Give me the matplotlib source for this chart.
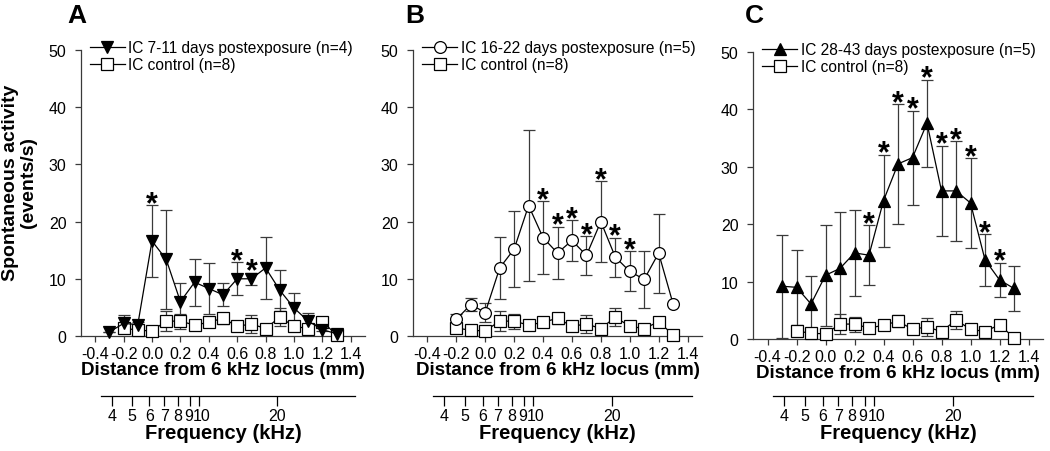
import numpy as np
import matplotlib
matplotlib.use("Agg")
import matplotlib.pyplot as plt
from matplotlib.transforms import ScaledTranslation

plt.rcParams['font.family'] = ['Liberation Sans', 'DejaVu Sans']

# distance from 6 kHz locus (mm)
x_exp = [-0.3, -0.2, -0.1, 0.0, 0.1, 0.2, 0.3, 0.4, 0.5, 0.6, 0.7, 0.8, 0.9, 1.0, 1.1, 1.2, 1.3]
x_ctl = [-0.2, -0.1, 0.0, 0.1, 0.2, 0.3, 0.4, 0.5, 0.6, 0.7, 0.8, 0.9, 1.0, 1.1, 1.2, 1.3]
x_b = x_ctl

# IC control (n=8), same in every panel
ctl_mean = [1.4, 1.0, 0.9, 2.6, 2.6, 1.9, 2.4, 3.1, 1.7, 2.1, 1.3, 3.3, 1.7, 1.3, 2.5, 0.2]
ctl_sem = [0.7, 0.3, 0.3, 1.8, 1.3, 0.4, 0.6, 1.0, 0.4, 1.5, 0.3, 1.6, 0.4, 0.3, 0.4, 0.1]

# A: 7-11 days postexposure (n=4)
a_mean = [0.7, 2.2, 2.0, 16.6, 13.4, 6.0, 9.4, 8.3, 7.2, 10.0, 10.0, 11.9, 8.0, 4.9, 2.6, 1.1, 0.4]
a_sem = [0.0, 1.4, 0.5, 6.3, 8.7, 3.2, 4.1, 4.4, 2.0, 2.9, 1.1, 5.4, 3.6, 2.6, 1.4, 0.3, 0.0]
a_star = [0.0, 0.6, 0.7]

# B: 16-22 days postexposure (n=5)
b_mean = [2.9, 5.5, 4.1, 11.9, 15.2, 22.8, 17.2, 14.5, 16.7, 14.1, 20.0, 13.8, 11.3, 9.9, 14.5, 5.6]
b_sem = [1.0, 1.2, 1.7, 5.4, 6.7, 13.2, 6.4, 4.6, 3.6, 3.4, 7.1, 3.4, 3.5, 5.0, 6.9, 0.0]
b_star = [0.4, 0.5, 0.6, 0.7, 0.8, 0.9, 1.0]

# C: 28-43 days postexposure (n=5)
c_mean = [9.2, 9.0, 6.1, 11.1, 12.3, 15.0, 14.6, 24.1, 30.5, 31.6, 37.6, 25.8, 25.8, 23.7, 13.8, 10.3, 8.8]
c_sem = [9.0, 6.5, 4.9, 8.8, 9.8, 7.5, 5.2, 8.0, 10.4, 8.2, 7.6, 7.9, 8.7, 7.8, 4.5, 3.0, 4.0]
c_star = [0.3, 0.4, 0.5, 0.6, 0.7, 0.8, 0.9, 1.0, 1.1, 1.2]

# frequency axis: tick labels and their place on the distance axis (mm)
freq_labels = ['4', '5', '6', '7', '8', '9', '10', '20']
freq_pos = [-0.284, -0.14, -0.018, 0.087, 0.182, 0.269, 0.332, 0.88]

dist_ticks = [-0.4, -0.2, 0.0, 0.2, 0.4, 0.6, 0.8, 1.0, 1.2, 1.4]

W, H = 1050, 452
fig = plt.figure(figsize=(W / 100, H / 100), dpi=100)
gray = '#3a3a3a'


def px_axes(left, top, right, bottom):
    return fig.add_axes([left / W, 1 - bottom / H, (right - left) / W, (bottom - top) / H])


panels = [
    ('A', 67, (81, 51, 365, 337), x_exp, a_mean, a_sem, a_star,
     dict(marker='v', mfc='k', ms=8.5), 'IC 7-11 days postexposure (n=4)'),
    ('B', 405, (413, 51, 702, 337), x_b, b_mean, b_sem, b_star,
     dict(marker='o', mfc='white', ms=8.5), 'IC 16-22 days postexposure (n=5)'),
    ('C', 745, (753, 53, 1043, 340), x_exp, c_mean, c_sem, c_star,
     dict(marker='^', mfc='k', ms=8.5), 'IC 28-43 days postexposure (n=5)'),
]

for letter, lx, box, xs, mean, sem, stars, mk, label in panels:
    ax = px_axes(*box)
    ebk = dict(fmt='none', ecolor=gray, elinewidth=0.9, capsize=4, capthick=0.9, clip_on=False)
    ax.errorbar(x_ctl, ctl_mean, yerr=ctl_sem, zorder=2, **ebk)
    l_ctl, = ax.plot(x_ctl, ctl_mean, color='k', lw=0.9, marker='s', ms=8, mfc='white',
                     mec='k', mew=0.9, clip_on=False, zorder=3, label='IC control (n=8)')
    ax.errorbar(xs, mean, yerr=sem, zorder=2, **ebk)
    l_exp, = ax.plot(xs, mean, color='k', lw=0.9, mec='k', mew=0.9, clip_on=False,
                     zorder=4, label=label, **mk)
    for s in stars:
        i = xs.index(s)
        ax.annotate('*', (s, mean[i] + sem[i]), xytext=(0, -5), textcoords='offset points',
                    ha='center', va='baseline', fontsize=22, fontweight='bold')

    ax.set_xlim(-0.5, 1.5)
    ax.set_ylim(0, 50)
    ax.set_xticks(dist_ticks)
    ax.set_xticklabels(['%.1f' % t for t in dist_ticks])
    ax.set_yticks(range(0, 51, 10))
    for side in ['top', 'right']:
        ax.spines[side].set_visible(False)
    for side in ['left', 'bottom']:
        ax.spines[side].set_color(gray)
        ax.spines[side].set_linewidth(0.9)
    ax.tick_params(direction='out', length=4.5, width=0.9, color=gray, labelsize=11.5)
    ax.tick_params(axis='x', pad=2.5)
    ax.tick_params(axis='y', pad=6)
    ax.set_xlabel('Distance from 6 kHz locus (mm)', fontsize=13.5, fontweight='bold', labelpad=0)

    ax.legend([l_exp, l_ctl], [label, 'IC control (n=8)'], loc='upper left',
              bbox_to_anchor=(0.03, 1.035), frameon=False, fontsize=11.2, handlelength=2.3,
              handletextpad=0.2, labelspacing=0.15, borderpad=0, borderaxespad=0)

    fig.text(lx / W, 1 - 16 / H, letter, fontsize=19, fontweight='bold', va='center', ha='left')

    # frequency axis under each panel
    fx = fig.add_axes([box[0] / W, 1 - 397 / H, (box[2] - box[0]) / W, 0.0001])
    fx.set_xlim(-0.5, 1.5)
    fx.set_yticks([])
    for side in ['top', 'right', 'left']:
        fx.spines[side].set_visible(False)
    fx.spines['bottom'].set_bounds(-0.36, 1.43)
    fx.spines['bottom'].set_linewidth(0.9)
    fx.patch.set_visible(False)
    fx.set_xticks(freq_pos)
    fx.set_xticklabels(freq_labels)
    fx.tick_params(direction='out', length=7, width=0.9, labelsize=11.5, pad=2)
    tl = fx.get_xticklabels()
    tl[5].set_transform(tl[5].get_transform() + ScaledTranslation(-1.5 / 100, 0, fig.dpi_scale_trans))
    tl[6].set_transform(tl[6].get_transform() + ScaledTranslation(2.5 / 100, 0, fig.dpi_scale_trans))
    fx.set_xlabel('Frequency (kHz)', fontsize=14.5, fontweight='bold', labelpad=0)

fig.text(19.5 / W, 1 - 183 / H, 'Spontaneous activity\n(events/s)', rotation=90,
         ha='center', va='center', fontsize=14, fontweight='bold', linespacing=1.0)

fig.savefig('out.png', dpi=100)
